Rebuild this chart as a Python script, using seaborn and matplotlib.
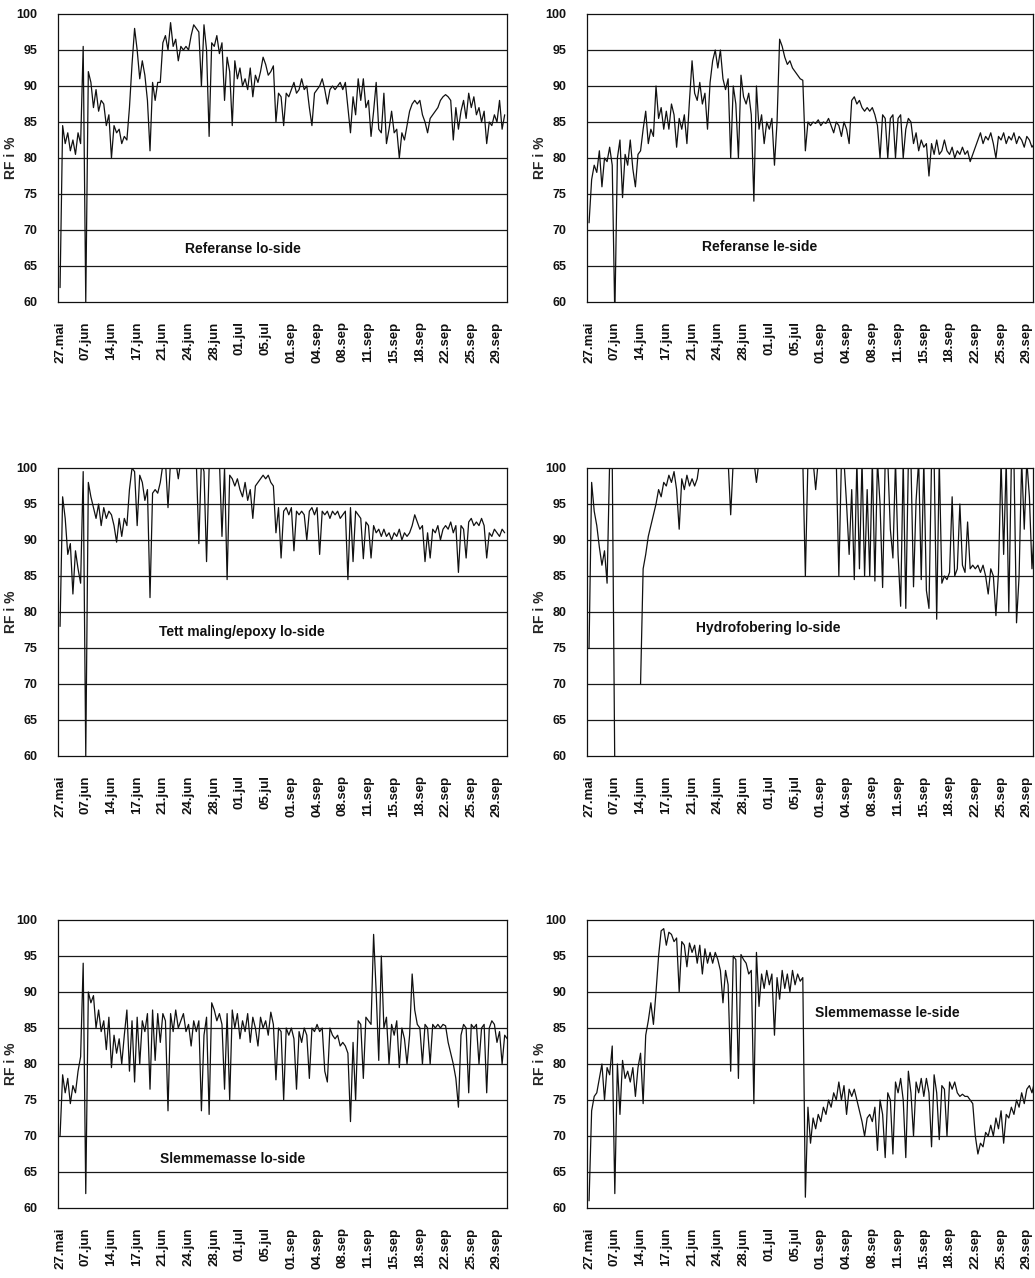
import numpy as np
import pandas as pd
import matplotlib
matplotlib.use("Agg")
import matplotlib.pyplot as plt
import seaborn as sns

# Category labels along the x axis (one label every SAMPLES_PER_LABEL readings)
date_labels = ["27.mai", "07.jun", "14.jun", "17.jun", "21.jun", "24.jun",
               "28.jun", "01.jul", "05.jul", "01.sep", "04.sep", "08.sep",
               "11.sep", "15.sep", "18.sep", "22.sep", "25.sep", "29.sep"]
SAMPLES_PER_LABEL = 10
nan = np.nan

# Relative humidity (RF, %) readings per test surface
rf_referanse_lo = [
    62, 84.5, 82, 83.5, 81, 82.5, 80.5, 83.5, 82, 95.5,
    60, 92, 90.5, 87, 89.5, 86.5, 88, 87.5, 84.5, 86,
    80, 84.5, 83.5, 84, 82, 83, 82.5, 87, 93, 98,
    95, 91, 93.5, 91.5, 88, 81, 90.5, 88, 90.5, 90.5,
    96, 97, 95, 98.8, 95.5, 96.5, 93.5, 95.5, 95, 95.5,
    95, 97, 98.5, 98, 97.5, 90, 98.5, 95, 83, 96,
    95.5, 97, 94.5, 96, 88, 94, 92, 84.5, 93.5, 91,
    92.5, 90, 91, 89.5, 92.5, 88.5, 91.5, 90.5, 92, 94,
    93, 91.5, 92, 92.8, 85, 89, 88.5, 84.5, 89, 88.5,
    89.5, 90.5, 89, 89.5, 91, 89.5, 90, 87, 84.5, 89,
    89.5, 90, 91, 89.5, 87.5, 89.5, 90, 89.5, 90, 90.5,
    89.5, 90.5, 87, 83.5, 88.5, 86, 91, 88, 91, 87,
    88, 83, 86.5, 90.5, 84, 83.5, 89, 82, 84, 86.5,
    83.5, 84, 80, 83.5, 82.5, 84.5, 86.5, 87.5, 88, 87.5,
    88, 86, 85, 83.5, 85.5, 86, 86.5, 87, 88, 88.5,
    88.8, 88.5, 88, 82.5, 87, 84, 86.5, 88, 85.5, 89,
    87, 88.5, 86, 87, 85, 86.5, 82, 85, 84.5, 86,
    85, 88, 84, 86]

rf_referanse_le = [
    71, 77, 79, 78, 81, 76, 80, 79.5, 81.5, 79,
    58, 80, 82.5, 74.5, 80.5, 79, 82.5, 78.5, 76, 80.5,
    81, 84, 86.5, 82, 84, 83, 90, 85.5, 87, 84,
    86.5, 84, 87.5, 86, 81.5, 85.5, 84, 86, 82, 88,
    93.5, 89, 88, 90.5, 87.5, 89, 84, 90.5, 93.5, 95,
    92.5, 95, 91, 89.5, 91, 80, 90, 87.5, 80, 91.5,
    88.5, 87.5, 89, 86, 74, 90, 84, 86, 82, 85,
    84, 85.5, 79, 85, 96.5, 95.5, 94, 93, 93.5, 92.5,
    92, 91.5, 91, 90.8, 81, 85, 84.5, 85, 84.8, 85.3,
    84.5, 85, 84.8, 85.5, 84.5, 83.5, 85, 84.5, 83, 85,
    84, 82, 88, 88.5, 87.5, 88, 87, 86.5, 87, 86.5,
    87, 86, 84.5, 80, 86, 85.5, 80, 85.5, 86, 80,
    85.5, 86, 80, 84, 85.5, 85, 82, 83.5, 81, 82.5,
    81.5, 82, 77.5, 82, 80.5, 82.5, 80.5, 81, 82.5, 81,
    80.5, 81.5, 80, 81, 80.5, 81.5, 80.5, 81, 79.5, 80.5,
    81.5, 82.5, 83.5, 82, 83, 82.5, 83.5, 82, 80, 83,
    82.5, 83.5, 82, 83, 82.5, 83.5, 82, 83, 82.5, 81.5,
    83, 82.5, 81.5, 82, 81.5]

rf_tett_maling_lo = [
    78, 96, 93, 88, 89.5, 82.5, 88.5, 86, 84, 99.5,
    60, 98, 96, 94.5, 93, 95, 92, 94.5, 93, 94,
    93.5, 92, 89.7, 93, 90.5, 93, 92, 97, 100, 99.5,
    92, 99, 98, 95.5, 97, 82, 96.5, 97, 96.5, 98,
    100.5, 101, 94.5, 101, 100.5, 101, 98.5, 101, 100.5, 101,
    101, 100.5, 101, 101, 89.5, 101, 99.5, 87, 100, 101,
    101, 100.5, 101, 90.5, 100, 84.5, 99, 98.5, 97.5, 98.5,
    97, 96, 98, 95.5, 97, 93, 97.5, 98, 98.5, 99,
    98.5, 99, 98, 97.5, 91, 94.5, 87.5, 94, 94.5, 93.5,
    94.5, 88.5, 94, 93.5, 94, 93.5, 90, 94, 94.5, 93.5,
    94.5, 88, 94, 93.5, 94, 93, 94, 93.5, 94, 93,
    93.5, 94, 84.5, 94.5, 87, 94, 93.5, 93, 87.4, 92.5,
    92, 87.5, 92, 91, 91.5, 90.5, 91.5, 90.5, 91, 90,
    91, 90.5, 91.5, 90, 91, 90.5, 91, 92, 93.5, 92.5,
    91.5, 92, 87, 91, 87.5, 91.5, 91, 92, 90, 91.5,
    92, 91.5, 92.5, 91, 92, 85.5, 92, 91.5, 87.5, 92.5,
    93, 92, 92.5, 92, 93, 92, 87.5, 91, 90.5, 91.5,
    91, 90.5, 91.5, 91]

rf_hydrofobering_lo = [
    75, 98, 94, 92, 89, 86.5, 88.5, 84, 101, 101,
    58, nan, nan, nan, nan, nan, nan, nan, nan, nan,
    70, 86, 88, 90.5, 92, 93.5, 95, 97, 96, 98,
    97.5, 99, 98, 99.5, 97, 91.5, 98.5, 97, 99, 97.5,
    98.5, 97.5, 98.5, 101, 101, 101, 101, 101, 101, 101,
    101, 101, 101, 101, 101, 93.5, 101, 101, 101, 101,
    101, 101, 101, 101, 101, 98, 101, 101, 101, 101,
    101, 101, 101, 101, 101, 101, 101, 101, 101, 101,
    101, 101, 101, 101, 85, 101, 101, 101, 97, 101,
    101, 101, 101, 101, 101, 101, 101, 85, 101, 101,
    95, 88, 97, 84.5, 101, 86, 101, 85, 97, 85,
    101, 84.3, 101, 95, 83.4, 101, 101, 91.5, 87.5, 101,
    88, 80.8, 101, 80.5, 101, 101, 83.5, 95.5, 101, 84.5,
    101, 83, 80.5, 101, 101, 79, 101, 84, 85, 84.5,
    85.5, 96, 85, 86, 95, 86.5, 85.5, 92.5, 86, 86.5,
    86, 86.5, 85.5, 86.5, 85, 82.5, 86, 85, 79.5, 85.5,
    101, 88, 101, 80, 101, 101, 78.5, 85, 101, 91.5,
    101, 96, 86, 92, 101]

rf_slemmemasse_lo = [
    70, 78.5, 76, 78, 74.5, 77, 76, 79, 81, 94,
    62, 90, 88.5, 89.5, 85, 87.5, 84.5, 86, 82, 86.5,
    79.5, 84, 81.5, 83.5, 80, 84, 87.5, 79, 86, 77.5,
    86.5, 80, 86, 84.5, 87, 76.5, 87.5, 80.5, 87, 83,
    87, 86, 73.5, 87, 84.5, 87.5, 85, 86, 87, 84.5,
    85.5, 82.5, 86, 84.5, 86, 73.5, 84, 86.5, 73, 88.5,
    87.5, 86, 87, 85.5, 76.5, 87, 75, 87.5, 85, 87,
    83.5, 86, 84.5, 87, 83, 86.5, 85, 82.5, 86.5, 85,
    86, 84, 87.2, 85.5, 77.8, 85, 84.5, 75, 85, 84,
    85, 83.5, 76.5, 84.5, 83, 85, 84, 78, 85, 84.5,
    85.5, 84.5, 85, 79, 77.5, 85, 84, 83.5, 84, 82.5,
    83, 82.5, 81.5, 72, 83, 75, 86, 85.5, 78, 86.5,
    86, 85.5, 98, 90, 80.5, 95, 85, 86.5, 80, 85.5,
    84, 86, 79.5, 85, 83.5, 80, 84, 92.5, 87.5, 85.5,
    85, 80, 85.5, 85, 80, 85.5, 85, 85.5, 85, 85.5,
    85.3, 83, 81.5, 80, 78, 74, 84, 85.5, 85, 76,
    85.5, 85, 85.5, 80, 85, 85.5, 76, 85, 86, 85.5,
    83, 84.5, 80, 84, 83.5]

rf_slemmemasse_le = [
    61, 73.5, 75.5, 76, 78, 80, 75, 79.5, 78.5, 82.5,
    62, 80, 73, 80.5, 78, 79, 77.5, 79.5, 75.5, 79.5,
    81.5, 74.5, 84, 86, 88.5, 85.5, 90, 95, 98.5, 98.8,
    96.5, 98.3, 98, 97, 97.5, 90, 97, 96.5, 93.5, 96.8,
    95.5, 96.5, 94, 96.5, 92.5, 96, 94, 95.5, 94, 95.5,
    94.5, 93, 88.5, 93, 91, 79, 95, 94.5, 78, 95.2,
    94.5, 94, 92.5, 93, 74.5, 95.5, 88, 92.5, 90.5, 93,
    91, 92.5, 84, 92, 89, 93, 90.5, 92.5, 90, 93,
    91, 92.5, 91.5, 92, 61.5, 74, 69, 72.5, 71, 73,
    72, 74, 73, 75, 74, 76, 75, 77.5, 75, 77,
    73, 76.5, 75.5, 76.5, 75, 73.5, 72, 70, 72.5, 73,
    72, 74, 68, 75, 73, 67, 76, 75, 67.5, 77.5,
    76, 78, 75, 67, 79, 76, 70, 77.5, 76, 78,
    75.5, 78, 76, 68.5, 78.5, 76, 69.5, 77, 76.5, 70,
    77.5, 76.5, 77.5, 76, 75.5, 75.8, 75.5, 75.5, 75, 74.5,
    70, 67.5, 69, 68.5, 70.5, 70, 71.5, 70, 72.5, 71,
    73.5, 69, 73, 72.5, 74, 73, 75, 74, 76, 74.5,
    76.5, 77, 76, 77.5, 76.5]


def series_frame(values):
    """Reading index -> label position; gaps (NaN) split the trace into runs."""
    rf = np.asarray(values, dtype=float)
    pos = np.arange(len(rf)) / SAMPLES_PER_LABEL
    run = np.cumsum(np.isnan(rf))
    return pd.DataFrame({"pos": pos, "rf": rf, "run": run}).dropna()


sns.set_theme(style="white")
plt.rcParams["font.family"] = ["Liberation Sans", "DejaVu Sans"]
plt.rcParams["font.weight"] = "bold"

fig = plt.figure(figsize=(10.35, 12.78), dpi=100)

W, H = 1035.0, 1278.0
col_left = [(58, 449, 17.39), (587, 446, 17.24)]
row_bottom = [302, 756, 1208]
panel_h = 288

panels = [
    (rf_referanse_lo, "Referanse lo-side", 7.12, 67.4, 0, 0),
    (rf_referanse_le, "Referanse le-side", 6.64, 67.6, 0, 1),
    (rf_tett_maling_lo, "Tett maling/epoxy lo-side", 7.08, 77.2, 1, 0),
    (rf_hydrofobering_lo, "Hydrofobering lo-side", 6.95, 77.8, 1, 1),
    (rf_slemmemasse_lo, "Slemmemasse lo-side", 6.73, 66.8, 2, 0),
    (rf_slemmemasse_le, "Slemmemasse le-side", 11.57, 87.1, 2, 1),
]

for values, title, tx, ty, r, c in panels:
    x0, w, xmax = col_left[c]
    ybot = row_bottom[r]
    ax = fig.add_axes([x0 / W, 1 - ybot / H, w / W, panel_h / H])
    df = series_frame(values)
    sns.lineplot(data=df, x="pos", y="rf", units="run", estimator=None,
                 sort=False, color="#111111", linewidth=0.9, ax=ax)

    ax.set_xlim(-0.08, xmax)
    ax.set_ylim(60, 100)
    ax.set_yticks(range(60, 101, 5))
    ax.set_yticklabels([str(v) for v in range(60, 101, 5)],
                       fontsize=9, fontweight="bold")
    ax.set_xticks(range(len(date_labels)))
    ax.set_xticklabels(date_labels, rotation=90, fontsize=9.5,
                       fontweight="bold")
    ax.grid(False)
    for v in range(65, 100, 5):
        ax.axhline(v, color="#1a1a1a", linewidth=0.9, zorder=0)
    for side in ["left", "right", "top", "bottom"]:
        ax.spines[side].set_visible(True)
        ax.spines[side].set_color("#111111")
        ax.spines[side].set_linewidth(0.9)
    ax.tick_params(axis="x", direction="in", length=4, width=0.9,
                   pad=14, colors="#111111")
    ax.tick_params(axis="y", direction="out", length=4, width=0.9,
                   pad=11, colors="#111111")
    ax.set_xlabel("")
    ax.set_ylabel("RF i %", fontsize=10, fontweight="bold")
    ax.yaxis.set_label_coords(-0.089, 0.5)
    ax.text(tx, ty, title, fontsize=10, fontweight="bold",
            ha="center", va="center", color="#111111")

fig.savefig("out.png", dpi=100, facecolor="white")
